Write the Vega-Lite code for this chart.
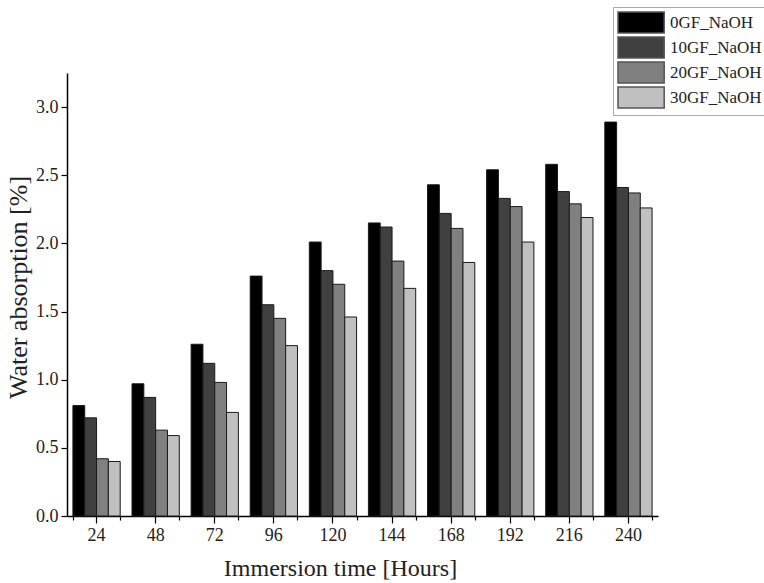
{
  "$schema": "https://vega.github.io/schema/vega-lite/v6.json",
  "width": 591,
  "height": 443,
  "autosize": {"type": "none"},
  "padding": {"left": 67, "top": 73, "right": 106, "bottom": 67},
  "config": {
    "view": {"stroke": null},
    "font": "Liberation Serif",
    "axis": {
      "domainColor": "#000000",
      "domainWidth": 1.5,
      "tickColor": "#000000",
      "tickWidth": 1.2,
      "labelColor": "#222222",
      "titleColor": "#222222",
      "labelFont": "Liberation Serif",
      "titleFont": "Liberation Serif",
      "titleFontWeight": "normal",
      "grid": false
    }
  },
  "data": {
    "values": [
      {"time": 24, "sample": "0GF_NaOH", "value": 0.81},
      {"time": 24, "sample": "10GF_NaOH", "value": 0.72},
      {"time": 24, "sample": "20GF_NaOH", "value": 0.42},
      {"time": 24, "sample": "30GF_NaOH", "value": 0.40},
      {"time": 48, "sample": "0GF_NaOH", "value": 0.97},
      {"time": 48, "sample": "10GF_NaOH", "value": 0.87},
      {"time": 48, "sample": "20GF_NaOH", "value": 0.63},
      {"time": 48, "sample": "30GF_NaOH", "value": 0.59},
      {"time": 72, "sample": "0GF_NaOH", "value": 1.26},
      {"time": 72, "sample": "10GF_NaOH", "value": 1.12},
      {"time": 72, "sample": "20GF_NaOH", "value": 0.98},
      {"time": 72, "sample": "30GF_NaOH", "value": 0.76},
      {"time": 96, "sample": "0GF_NaOH", "value": 1.76},
      {"time": 96, "sample": "10GF_NaOH", "value": 1.55},
      {"time": 96, "sample": "20GF_NaOH", "value": 1.45},
      {"time": 96, "sample": "30GF_NaOH", "value": 1.25},
      {"time": 120, "sample": "0GF_NaOH", "value": 2.01},
      {"time": 120, "sample": "10GF_NaOH", "value": 1.80},
      {"time": 120, "sample": "20GF_NaOH", "value": 1.70},
      {"time": 120, "sample": "30GF_NaOH", "value": 1.46},
      {"time": 144, "sample": "0GF_NaOH", "value": 2.15},
      {"time": 144, "sample": "10GF_NaOH", "value": 2.12},
      {"time": 144, "sample": "20GF_NaOH", "value": 1.87},
      {"time": 144, "sample": "30GF_NaOH", "value": 1.67},
      {"time": 168, "sample": "0GF_NaOH", "value": 2.43},
      {"time": 168, "sample": "10GF_NaOH", "value": 2.22},
      {"time": 168, "sample": "20GF_NaOH", "value": 2.11},
      {"time": 168, "sample": "30GF_NaOH", "value": 1.86},
      {"time": 192, "sample": "0GF_NaOH", "value": 2.54},
      {"time": 192, "sample": "10GF_NaOH", "value": 2.33},
      {"time": 192, "sample": "20GF_NaOH", "value": 2.27},
      {"time": 192, "sample": "30GF_NaOH", "value": 2.01},
      {"time": 216, "sample": "0GF_NaOH", "value": 2.58},
      {"time": 216, "sample": "10GF_NaOH", "value": 2.38},
      {"time": 216, "sample": "20GF_NaOH", "value": 2.29},
      {"time": 216, "sample": "30GF_NaOH", "value": 2.19},
      {"time": 240, "sample": "0GF_NaOH", "value": 2.89},
      {"time": 240, "sample": "10GF_NaOH", "value": 2.41},
      {"time": 240, "sample": "20GF_NaOH", "value": 2.37},
      {"time": 240, "sample": "30GF_NaOH", "value": 2.26}
    ]
  },
  "layer": [
    {
      "mark": {"type": "bar", "stroke": "#1a1a1a", "strokeWidth": 1},
      "encoding": {
        "x": {
          "field": "time",
          "type": "ordinal",
          "scale": {"paddingInner": 0.2, "paddingOuter": 0.1},
          "axis": {
            "orient": "bottom",
            "title": "Immersion time [Hours]",
            "titleFontSize": 24,
            "titlePadding": 12,
            "titleX": 273,
            "titleAlign": "center",
            "labelFontSize": 18,
            "labelAngle": 0,
            "labelPadding": 3,
            "tickSize": 7,
            "domain": true
          }
        },
        "xOffset": {
          "field": "sample",
          "type": "nominal",
          "sort": ["0GF_NaOH", "10GF_NaOH", "20GF_NaOH", "30GF_NaOH"],
          "scale": {"paddingInner": 0, "paddingOuter": 0}
        },
        "y": {
          "field": "value",
          "type": "quantitative",
          "stack": null,
          "scale": {"domain": [0, 3.25], "nice": false},
          "axis": {
            "title": "Water absorption [%]",
            "titleFontSize": 26,
            "titlePadding": 4,
            "titleY": 214,
            "titleAlign": "center",
            "labelFontSize": 18,
            "values": [0, 0.25, 0.5, 0.75, 1, 1.25, 1.5, 1.75, 2, 2.25, 2.5, 2.75, 3, 3.25],
            "labelExpr": "datum.value % 0.5 === 0 ? format(datum.value, '.1f') : ''",
            "tickSize": {"condition": {"test": "datum.value % 0.5 === 0", "value": 6}, "value": 3},
            "labelPadding": 3
          }
        },
        "color": {
          "field": "sample",
          "type": "nominal",
          "sort": ["0GF_NaOH", "10GF_NaOH", "20GF_NaOH", "30GF_NaOH"],
          "scale": {
            "domain": ["0GF_NaOH", "10GF_NaOH", "20GF_NaOH", "30GF_NaOH"],
            "range": ["#000000", "#404040", "#808080", "#c0c0c0"]
          },
          "legend": {
            "title": null,
            "orient": "none",
            "legendX": 546,
            "legendY": -66,
            "symbolType": "M-1,-1H3.4V1H-1Z",
            "symbolSize": 441,
            "symbolStrokeColor": "#555555",
            "symbolStrokeWidth": 1.5,
            "symbolOpacity": 1,
            "labelFontSize": 17,
            "labelFont": "Liberation Serif",
            "labelColor": "#222222",
            "labelOffset": 30,
            "rowPadding": -3,
            "padding": 4,
            "strokeColor": "#aaaaaa",
            "fillColor": "#ffffff"
          }
        }
      }
    },
    {
      "mark": {"type": "point", "opacity": 0},
      "encoding": {
        "x": {
          "field": "time",
          "type": "ordinal",
          "axis": {
            "orient": "bottom",
            "title": null,
            "labels": false,
            "domain": false,
            "tickBand": "extent",
            "tickSize": 4
          }
        },
        "y": {"field": "value", "type": "quantitative"}
      }
    }
  ],
  "resolve": {"axis": {"x": "independent"}}
}
